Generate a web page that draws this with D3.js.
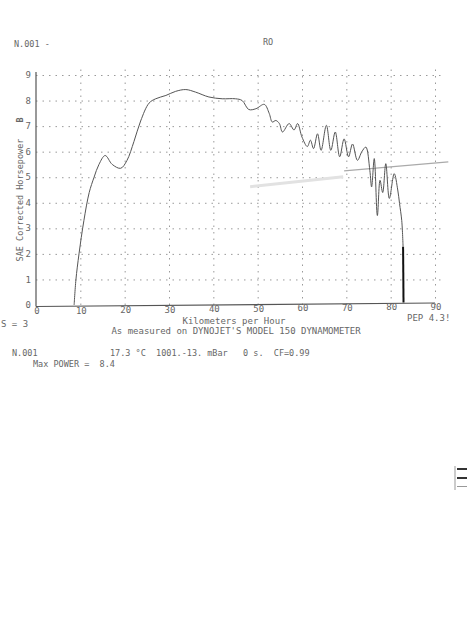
<!DOCTYPE html>
<html>
<head>
<meta charset="utf-8">
<script src="https://cdn.jsdelivr.net/npm/d3@7/dist/d3.min.js"></script>
<style>
  body { margin: 0; background: #fff; }
  text { font-family: "DejaVu Sans Mono", monospace; fill: #666; }
  .grid line { stroke: #9a9a9a; stroke-dasharray: 1.5,5; }
  .grid path { display: none; }
</style>
</head>
<body>
<svg width="468" height="644"></svg>
<script>
var svg = d3.select("svg"),
    plotLeft = 36, plotRight = 435, plotTop = 75, plotBottom = 305;

// run data (km/h vs SAE corrected hp)
var kmh = [8.6, 9.0, 9.7, 10.8, 12.0, 13.1, 14.2, 15.6, 17.2, 19.1, 20.5, 22.1, 23.6, 25.5, 27.0,
    29.3, 31.5, 33.8, 36.0, 39.0, 42.0, 45.0, 46.5, 48.0, 49.6, 51.5, 52.6, 53.3, 54.1, 54.9,
    55.6, 57.1, 58.2, 59.0, 60.0, 61.2, 61.9, 62.6, 63.5, 64.3, 65.5, 66.5, 67.5, 68.5, 69.5,
    70.5, 71.4, 72.5, 73.5, 74.4, 75.3, 75.7, 76.3, 77.0, 77.6, 78.2, 78.9, 79.7, 80.8, 81.6,
    82.0, 82.5, 82.8, 82.9];
var hp = [0, 0.98, 2.0, 3.3, 4.4, 5.0, 5.5, 5.85, 5.5, 5.35, 5.65, 6.4, 7.2, 7.9, 8.07,
    8.2, 8.36, 8.43, 8.33, 8.14, 8.07, 8.07, 8.0, 7.65, 7.68, 7.85, 7.5, 7.16, 7.22, 7.1,
    6.77, 7.1, 6.85, 7.1, 6.57, 6.2, 6.45, 6.12, 6.7, 6.05, 7.03, 6.05, 6.77, 5.8, 6.5,
    5.8, 6.3, 5.66, 6.0, 6.18, 5.27, 4.62, 5.73, 3.5, 4.88, 4.4, 5.53, 4.17, 5.14, 4.5,
    3.97, 3.3, 2.28, 0.1];

var xTicks = [0, 10, 20, 30, 40, 50, 60, 70, 80, 90];
var yTicks = [0, 1, 2, 3, 4, 5, 6, 7, 8, 9];

// pencil mark across the sheet
var pencilKmh = [69.5, 93], pencilHp = [5.25, 5.6];
var smudgeKmh = [48.3, 69.3], smudgeHp = [4.63, 5.02];

var x = d3.scaleLinear().domain([0, 90]).range([plotLeft, plotRight]),
    y = d3.scaleLinear().domain([0, 9]).range([plotBottom, plotTop]);

// Gridlines
svg.append("g")
    .attr("class", "grid")
    .attr("transform", "translate(0," + plotBottom + ")")
    .call(d3.axisBottom(x).tickValues(xTicks.slice(1)).tickSize(-(plotBottom - 67)).tickFormat(""));
svg.append("g")
    .attr("class", "grid")
    .attr("transform", "translate(" + plotLeft + ",0)")
    .call(d3.axisLeft(y).tickValues(yTicks.slice(1)).tickSize(-(plotRight + 6 - plotLeft)).tickFormat(""));

// Axes (the scan is a little skewed, so the baseline rises to the right)
svg.append("line")
    .attr("x1", x(0)).attr("x2", x(90)).attr("y1", y(0) + 1.5).attr("y2", y(0) - 2)
    .attr("stroke", "#555").attr("stroke-width", 1.2);
svg.append("line")
    .attr("x1", x(0)).attr("x2", x(0)).attr("y1", y(0) + 1.5).attr("y2", y(9) - 3)
    .attr("stroke", "#555").attr("stroke-width", 1.2);

svg.selectAll(".xlab")
    .data(xTicks)
    .enter().append("text")
    .attr("class", "xlab")
    .attr("x", function(d) { return x(d) + 1; })
    .attr("y", function(d) { return 314 - d / 90 * 4; })
    .attr("text-anchor", "middle")
    .style("font-size", "9px")
    .text(function(d) { return d; });

svg.selectAll(".ylab")
    .data(yTicks)
    .enter().append("text")
    .attr("class", "ylab")
    .attr("x", 31)
    .attr("y", function(d) { return y(d); })
    .attr("dy", "0.35em")
    .attr("text-anchor", "end")
    .style("font-size", "9px")
    .text(function(d) { return d; });

// Pencil marks
var straight = d3.line().x(function(d) { return x(d[0]); }).y(function(d) { return y(d[1]); });
svg.append("path")
    .datum(d3.zip(smudgeKmh, smudgeHp))
    .attr("d", straight)
    .attr("stroke", "#e2e2e2").attr("stroke-width", 3).attr("fill", "none");
svg.append("path")
    .datum(d3.zip(pencilKmh, pencilHp))
    .attr("d", straight)
    .attr("stroke", "#aaa").attr("stroke-width", 1.3).attr("fill", "none");

// Power curve
var line = d3.line()
    .curve(d3.curveCatmullRom.alpha(0.5))
    .x(function(d) { return x(d[0]); })
    .y(function(d) { return y(d[1]); });

var pts = d3.zip(kmh, hp);
svg.append("path")
    .datum(pts.slice(0, pts.length - 1))
    .attr("d", line)
    .attr("fill", "none")
    .attr("stroke", "#555")
    .attr("stroke-width", 1);
svg.append("path")
    .datum(pts.slice(pts.length - 2))
    .attr("d", straight)
    .attr("fill", "none")
    .attr("stroke", "#111")
    .attr("stroke-width", 2);

// Header / footer text
function label(tx, ty, s, size, anchor, rot) {
    var t = svg.append("text")
        .attr("x", tx).attr("y", ty)
        .style("font-size", size + "px")
        .style("white-space", "pre")
        .attr("text-anchor", anchor || "start")
        .text(s);
    if (rot) t.attr("transform", "rotate(-90," + tx + "," + ty + ")");
    return t;
}
label(14, 47, "N.001 -", 8.5);
label(263, 45, "RO", 8.5);
label(23, 200, "SAE Corrected Horsepower", 8.5, "middle", true);
label(23, 120, "B", 8.5, "middle", true).style("font-weight", "bold");
label(1, 327, "S = 3", 9);
label(234, 324, "Kilometers per Hour", 9, "middle");
label(236, 334, "As measured on DYNOJET'S MODEL 150 DYNAMOMETER", 9, "middle");
label(407, 321, "PEP 4.3!", 9);
label(12, 356, "N.001", 8.5);
label(110, 356, "17.3 \u00b0C  1001.-13. mBar   0 s.  CF=0.99", 8.5);
label(33, 367, "Max POWER =  8.4", 8.5);

// scanner marks at right edge
svg.append("rect").attr("x", 457).attr("y", 468).attr("width", 10).attr("height", 2).attr("fill", "#333");
svg.append("rect").attr("x", 457).attr("y", 477).attr("width", 10).attr("height", 2).attr("fill", "#333");
svg.append("rect").attr("x", 457).attr("y", 486).attr("width", 10).attr("height", 1).attr("fill", "#999");
svg.append("line").attr("x1", 455).attr("x2", 455).attr("y1", 466).attr("y2", 490).attr("stroke", "#999");
</script>
</body>
</html>
